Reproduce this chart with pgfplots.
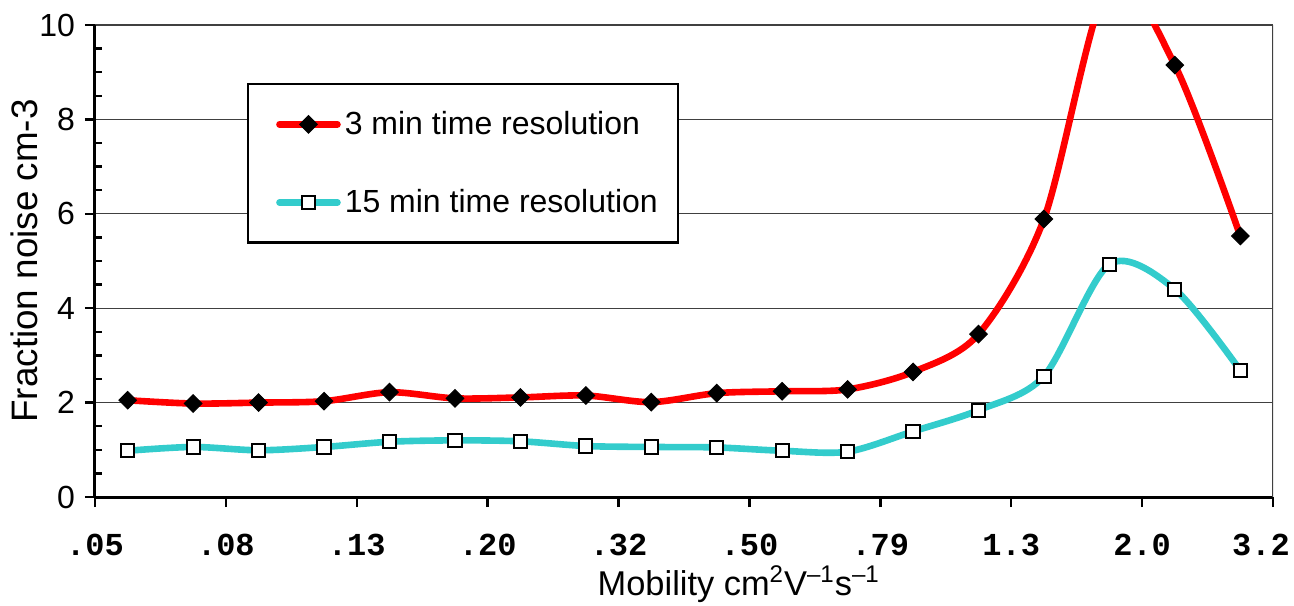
\documentclass[border=0pt]{standalone}
\usepackage{pgfplots}
\usepackage{pgfplotstable}
\pgfplotsset{compat=1.18}
\usepackage{fontspec}
\setmainfont{Liberation Sans}
\newfontfamily\courfont{Liberation Mono}
\definecolor{excelred}{RGB}{255,0,0}
\definecolor{excelcyan}{RGB}{51,204,204}

% category index (bin centres), 3 min and 15 min resolution
\pgfplotstableread{
x    three fifteen
0.5  2.05  0.98
1.5  1.98  1.06
2.5  2.00  0.99
3.5  2.03  1.06
4.5  2.22  1.17
5.5  2.09  1.20
6.5  2.11  1.18
7.5  2.15  1.08
8.5  2.01  1.06
9.5  2.20  1.05
10.5 2.24  0.98
11.5 2.28  0.96
12.5 2.65  1.39
13.5 3.45  1.84
14.5 5.89  2.56
15.5 10.9  4.93
16.5 9.15  4.40
17.5 5.53  2.68
}\noisetable

\begin{document}
\begin{tikzpicture}
\begin{axis}[
    name=ax,
    scale only axis,
    width=589pt, height=236pt,
    xmin=0, xmax=18,
    ymin=0, ymax=10,
    axis lines*=left,
    axis line style={line width=1.5pt},
    xtick={0,2,...,18},
    xticklabels={.05,.08,.13,.20,.32,.50,.79,1.3,2.0,3.2\kern12pt},
    ytick={0,2,...,10},
    minor y tick num=3,
    tick align=outside,
    major tick length=5pt,
    minor tick length=3.5pt,
    tick style={black, line width=1.2pt},
    minor y tick style={xshift=3.5pt},
    ymajorgrids,
    major grid style={black!75, line width=0.6pt},
    /pgf/number format/assume math mode=true,
    yticklabel style={font=\fontsize{16}{19}\selectfont, xshift=-1.5pt},
    xticklabel style={font=\fontsize{16}{19}\selectfont\courfont\bfseries, yshift=-10pt},
    ylabel={Fraction noise cm-3},
    ylabel style={font=\fontsize{18.4}{22}\selectfont, at={(axis description cs:-0.06,0.5)}, anchor=center},
    xlabel={Mobility cm\textsuperscript{2}V\textsuperscript{–1}s\textsuperscript{–1}},
    xlabel style={font=\fontsize{17.2}{20}\selectfont, at={(axis description cs:0.5465,-0.185)}, anchor=center},
    legend style={at={(axis description cs:0.129,0.877)}, anchor=north west,
        draw=black, line width=1.2pt, fill=white,
        inner xsep=10pt, inner ysep=10.5pt, row sep=20pt,
        font=\fontsize{16}{19}\selectfont, nodes={inner ysep=3pt, inner xsep=0pt}},
    legend cell align=left,
    legend image code/.code={
        \path (0pt,0pt) (35pt,0pt);
        \draw[mark repeat=2, mark phase=2, line cap=round, #1]
            plot coordinates {(4pt,0pt) (18.5pt,0pt) (33pt,0pt)};},
]
\addplot[excelred, line width=3.3pt, smooth, tension=0.5,
    mark=square*, mark size=3.1pt,
    mark options={black, fill=black, rotate=45, line width=0.5pt}]
    table[x=x, y=three]{\noisetable};
\addlegendentry{3 min time resolution}
\addplot[excelcyan, line width=3.3pt, smooth, tension=0.5,
    mark=square*, mark size=3.3pt,
    mark options={black, fill=white, line width=1pt}]
    table[x=x, y=fifteen]{\noisetable};
\addlegendentry{15 min time resolution}
\draw[black!75, line width=0.6pt] (rel axis cs:1,0) -- (rel axis cs:1,1);
\end{axis}
\pgfresetboundingbox
\useasboundingbox ([xshift=-47.5pt, yshift=-54.15pt]ax.south west)
    rectangle ([xshift=10.5pt, yshift=12.5pt]ax.north east);
\end{tikzpicture}
\end{document}
